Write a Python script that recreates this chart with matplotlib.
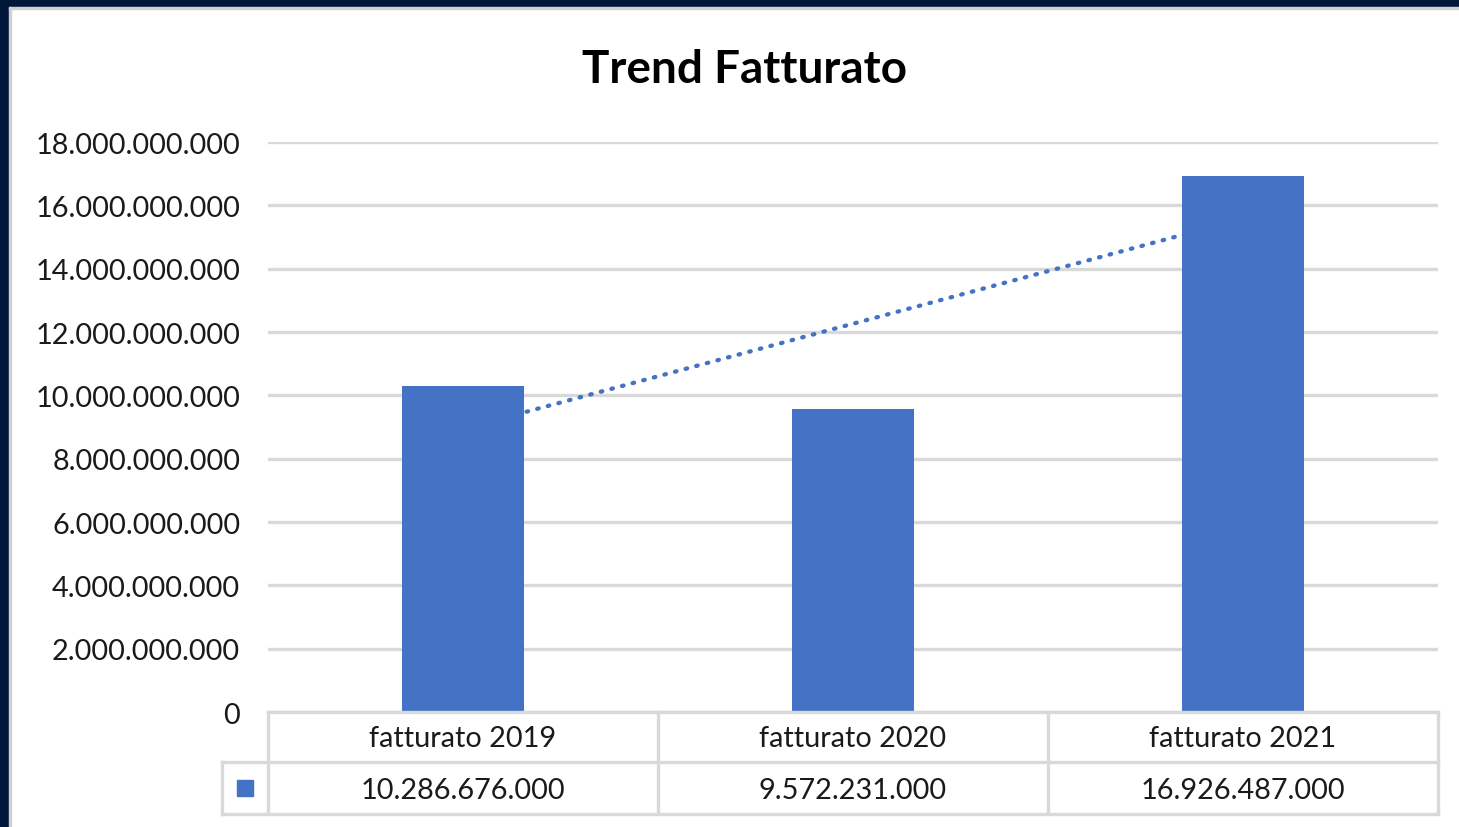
import matplotlib

matplotlib.use('Agg')
import matplotlib.pyplot as plt
import numpy as np
from matplotlib.ticker import FuncFormatter
from matplotlib.patches import Rectangle

# data
categories = ['fatturato 2019', 'fatturato 2020', 'fatturato 2021']
values = [10286676000, 9572231000, 16926487000]
y_ticks = np.arange(0, 18000000001, 2000000000)

BLUE = '#4472C4'
GRID = '#d9d9d9'
NAVY = '#00173a'
TXT = '#1a1a1a'
FS = 20.8

plt.rcParams['font.family'] = ['Lato', 'DejaVu Sans']

W, H = 1459, 828
fig = plt.figure(figsize=(W / 100, H / 100), dpi=100)
fig.patch.set_facecolor('white')

# dark frame at top/left like the screenshot
fig.patches.append(Rectangle((0, 1 - 8 / H), 1, 8 / H, transform=fig.transFigure,
                             color=NAVY, zorder=0))
fig.patches.append(Rectangle((0, 0), 9 / W, 1, transform=fig.transFigure,
                             color=NAVY, zorder=0))
fig.patches.append(Rectangle((9 / W, 1 - 10 / H), 1, 2 / H, transform=fig.transFigure,
                             color='#d0d0d0', zorder=0))
fig.patches.append(Rectangle((9 / W, 0), 2 / W, 1 - 8 / H, transform=fig.transFigure,
                             color='#d0d0d0', zorder=0))

# plot area
x0, x1, ytop, ybot = 268, 1438, 143, 713
ax = fig.add_axes([x0 / W, 1 - ybot / H, (x1 - x0) / W, (ybot - ytop) / H])
ax.set_facecolor('none')

x = np.arange(len(categories))
ax.bar(x, values, width=0.315, color=BLUE, zorder=3)

# linear trendline (Excel style), from first to last category
k, b = np.polyfit(x, values, 1)
ax.plot(x, k * x + b, color=BLUE, lw=3.1, linestyle=(0, (0.35, 2.2)),
        dash_capstyle='round', zorder=2)

ax.set_xlim(-0.5, len(categories) - 0.5)
ax.set_ylim(0, 18000000000)
ax.set_yticks(y_ticks)
ax.yaxis.set_major_formatter(FuncFormatter(lambda v, p: f'{v:,.0f}'.replace(',', '.')))
ax.tick_params(axis='y', length=0, pad=20, labelsize=FS, labelcolor=TXT)
ax.set_xticks([])
ax.grid(axis='y', color=GRID, lw=2.4, zorder=1)
for s in ax.spines.values():
    s.set_visible(False)

# data table under the plot
tr = ax.get_xaxis_transform()
ph = ybot - ytop
r1 = -50 / ph
r2 = -102 / ph
leg_x = -0.5 - 46 / 390
edges = np.arange(len(categories) + 1) - 0.5
lkw = dict(color=GRID, lw=2.4, transform=tr, clip_on=False, zorder=4,
           solid_capstyle='projecting')
ax.plot([edges[0], edges[-1]], [0, 0], **lkw)
ax.plot([leg_x, edges[-1]], [r1, r1], **lkw)
ax.plot([leg_x, edges[-1]], [r2, r2], **lkw)
for e in edges:
    ax.plot([e, e], [0, r2], **lkw)
ax.plot([leg_x, leg_x], [r1, r2], **lkw)

off = -2 / ph
for i, (c, v) in enumerate(zip(categories, values)):
    ax.text(i, r1 / 2 + off / 2, c, transform=tr, ha='center', va='center',
            fontsize=FS, color=TXT, clip_on=False)
    ax.text(i, (r1 + r2) / 2 + off, f'{v:,.0f}'.replace(',', '.'), transform=tr,
            ha='center', va='center', fontsize=FS, color=TXT, clip_on=False)
ax.plot([(leg_x + edges[0]) / 2], [(r1 + r2) / 2], marker='s', ms=12, color=BLUE,
        transform=tr, clip_on=False, zorder=5)

fig.text(744 / W, 1 - 70 / H, 'Trend Fatturato', ha='center', va='center',
         fontsize=33, fontweight='bold', color='black')

fig.savefig('out.png', dpi=100, facecolor=fig.get_facecolor())
plt.close()
